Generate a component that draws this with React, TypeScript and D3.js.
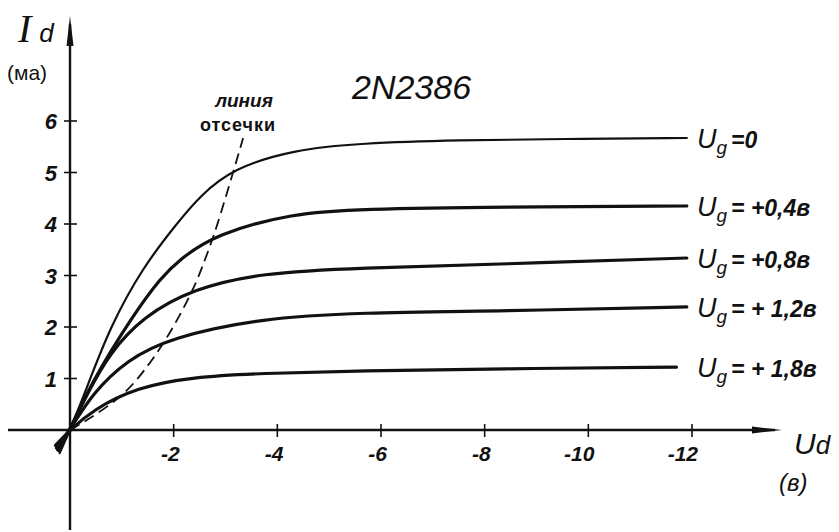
import React, { useRef, useEffect } from 'react';
import * as d3 from 'd3';

// drain voltage Ud (volts, negative) vs drain current Id (mA) for 2N2386
const xTicks = [-2, -4, -6, -8, -10, -12];
const yTicks = [1, 2, 3, 4, 5, 6];

const gateLabels = ['=0', '= +0,4в', '= +0,8в', '= + 1,2в', '= + 1,8в'];
const gateWidth = [2.2, 3.2, 3.2, 3.2, 3.2];

const ug0 = [[0.2, -0.45], [0, 0], [-0.33, 0.83], [-0.77, 2.0], [-1.41, 3.17], [-2.07, 4.02], [-2.51, 4.55], [-3.15, 5.08], [-4.3, 5.44], [-5.6, 5.57], [-7.5, 5.63], [-9.5, 5.65], [-11.9, 5.67]];
const ug04 = [[0.22, -0.4], [0, 0], [-0.4, 0.9], [-1.23, 2.25], [-1.75, 2.95], [-2.1, 3.3], [-2.8, 3.8], [-4.3, 4.21], [-5.6, 4.29], [-8.3, 4.33], [-11.9, 4.35]];
const ug08 = [[0.24, -0.38], [0, 0], [-0.33, 0.7], [-0.77, 1.5], [-1.41, 2.2], [-2.37, 2.74], [-3.67, 3.05], [-5.6, 3.15], [-8.3, 3.22], [-11.9, 3.34]];
const ug12 = [[0.26, -0.35], [0, 0], [-0.44, 0.72], [-1.1, 1.36], [-1.93, 1.79], [-3.67, 2.17], [-5.6, 2.28], [-8.3, 2.31], [-11.9, 2.39]];
const ug18 = [[0.28, -0.3], [0, 0], [-0.44, 0.39], [-1.29, 0.83], [-2.37, 1.03], [-3.67, 1.1], [-5.6, 1.15], [-8.3, 1.19], [-11.7, 1.22]];
const cutoff = [[0, 0], [-0.33, 0.19], [-0.91, 0.58], [-1.29, 0.95], [-1.87, 1.75], [-2.41, 2.78], [-2.6, 3.3], [-2.8, 3.83], [-3.19, 5.15], [-3.34, 5.67]];

const series = [ug0, ug04, ug08, ug12, ug18];

const hand = "'Liberation Sans', 'DejaVu Sans', sans-serif";

function App() {
    const chartRef = useRef<HTMLDivElement>(null);

    useEffect(() => {
        const width = 839;
        const height = 532;

        const x = d3.scaleLinear().domain([0, -12]).range([70, 692]);
        const y = d3.scaleLinear().domain([0, 6]).range([430, 121]);

        const svg = d3.select(chartRef.current)
            .append('svg')
            .attr('width', width)
            .attr('height', height)
            .style('position', 'absolute')
            .style('left', 0)
            .style('top', 0)
            .style('background', '#fff');

        const ink = '#111';

        // axes
        svg.append('line')
            .attr('x1', 8).attr('y1', y(0))
            .attr('x2', 775).attr('y2', y(0))
            .attr('stroke', ink).attr('stroke-width', 2.4);
        svg.append('path')
            .attr('d', `M782,${y(0)} L752,${y(0) - 3.5} L752,${y(0) + 3.5} Z`)
            .attr('fill', ink);

        svg.append('line')
            .attr('x1', x(0)).attr('y1', 530)
            .attr('x2', x(0)).attr('y2', 24)
            .attr('stroke', ink).attr('stroke-width', 2.4);
        svg.append('path')
            .attr('d', `M${x(0)},16 L${x(0) - 3.5},46 L${x(0) + 3.5},46 Z`)
            .attr('fill', ink);

        // x ticks
        svg.selectAll('.xtick')
            .data(xTicks)
            .enter()
            .append('line')
            .attr('x1', d => x(d)).attr('x2', d => x(d))
            .attr('y1', y(0) - 6).attr('y2', y(0) + 7)
            .attr('stroke', ink).attr('stroke-width', 1.6);

        svg.selectAll('.xlabel')
            .data(xTicks)
            .enter()
            .append('text')
            .attr('x', d => x(d) + 6)
            .attr('y', y(0) + 31)
            .attr('text-anchor', 'end')
            .attr('font-family', hand)
            .attr('font-style', 'italic')
            .attr('font-weight', 'bold')
            .attr('font-size', 21)
            .attr('fill', ink)
            .text(d => '-' + Math.abs(d));

        // y ticks
        svg.selectAll('.ytick')
            .data(yTicks)
            .enter()
            .append('line')
            .attr('x1', x(0) - 6).attr('x2', x(0) + 7)
            .attr('y1', d => y(d)).attr('y2', d => y(d))
            .attr('stroke', ink).attr('stroke-width', 1.6);

        svg.selectAll('.ylabel')
            .data(yTicks)
            .enter()
            .append('text')
            .attr('x', 57)
            .attr('y', d => y(d) + 8)
            .attr('text-anchor', 'end')
            .attr('font-family', hand)
            .attr('font-style', 'italic')
            .attr('font-weight', 'bold')
            .attr('font-size', 22)
            .attr('fill', ink)
            .text(d => d);

        const line = d3.line<number[]>()
            .x(d => x(d[0]))
            .y(d => y(d[1]))
            .curve(d3.curveBasis);

        // cut-off line
        svg.append('path')
            .attr('d', line(cutoff))
            .attr('fill', 'none')
            .attr('stroke', ink)
            .attr('stroke-width', 1.8)
            .attr('stroke-dasharray', '11 6');

        // characteristic curves
        svg.selectAll('.curve')
            .data(series)
            .enter()
            .append('path')
            .attr('d', d => line(d))
            .attr('fill', 'none')
            .attr('stroke', ink)
            .attr('stroke-width', (d, i) => gateWidth[i])
            .attr('stroke-linecap', 'round');

        // gate voltage labels
        const lab = svg.selectAll('.glabel')
            .data(series)
            .enter()
            .append('text')
            .attr('x', 697)
            .attr('y', d => y(d[d.length - 1][1]) + 10)
            .attr('font-family', hand)
            .attr('font-style', 'italic')
            .attr('font-size', 27)
            .attr('fill', ink);
        lab.append('tspan').text('U');
        lab.append('tspan').attr('dy', 6).attr('font-size', 19).text('g');
        lab.append('tspan').attr('dy', -6).attr('dx', 4).attr('font-size', 23).attr('font-weight', 'bold')
            .text((d, i) => gateLabels[i]);

        // titles
        svg.append('text')
            .attr('x', 352).attr('y', 99)
            .attr('font-family', hand)
            .attr('font-style', 'italic')
            .attr('font-size', 34)
            .attr('fill', ink)
            .text('2N2386');

        svg.append('text')
            .attr('x', 244).attr('y', 107)
            .attr('text-anchor', 'middle')
            .attr('font-family', hand)
            .attr('font-style', 'italic')
            .attr('font-weight', 'bold')
            .attr('font-size', 19)
            .attr('fill', ink)
            .text('линия');
        svg.append('text')
            .attr('x', 238).attr('y', 131)
            .attr('text-anchor', 'middle')
            .attr('font-family', hand)
            .attr('font-weight', 'bold')
            .attr('font-size', 18)
            .attr('letter-spacing', 1)
            .attr('fill', ink)
            .text('отсечки');

        // axis names
        const idLabel = svg.append('text')
            .attr('x', 18).attr('y', 42)
            .attr('font-family', "'Liberation Serif', serif")
            .attr('font-style', 'italic')
            .attr('font-size', 40)
            .attr('fill', ink);
        idLabel.append('tspan').text('I');
        idLabel.append('tspan').attr('dx', 8).attr('font-family', hand).attr('font-size', 26).text('d');

        svg.append('text')
            .attr('x', 7).attr('y', 80)
            .attr('font-family', hand)
            .attr('font-size', 21)
            .attr('fill', ink)
            .text('(ма)');

        const udLabel = svg.append('text')
            .attr('x', 794).attr('y', 454)
            .attr('font-family', hand)
            .attr('font-style', 'italic')
            .attr('font-size', 30)
            .attr('fill', ink);
        udLabel.append('tspan').text('U');
        udLabel.append('tspan').attr('font-size', 26).text('d');

        svg.append('text')
            .attr('x', 779).attr('y', 491)
            .attr('font-family', hand)
            .attr('font-style', 'italic')
            .attr('font-size', 24)
            .attr('fill', ink)
            .text('(в)');

        return () => {
            svg.remove();
        };
    }, []);

    return (
        <div ref={chartRef} style={{ width: 839, height: 532 }}></div>
    );
}

export default App;
